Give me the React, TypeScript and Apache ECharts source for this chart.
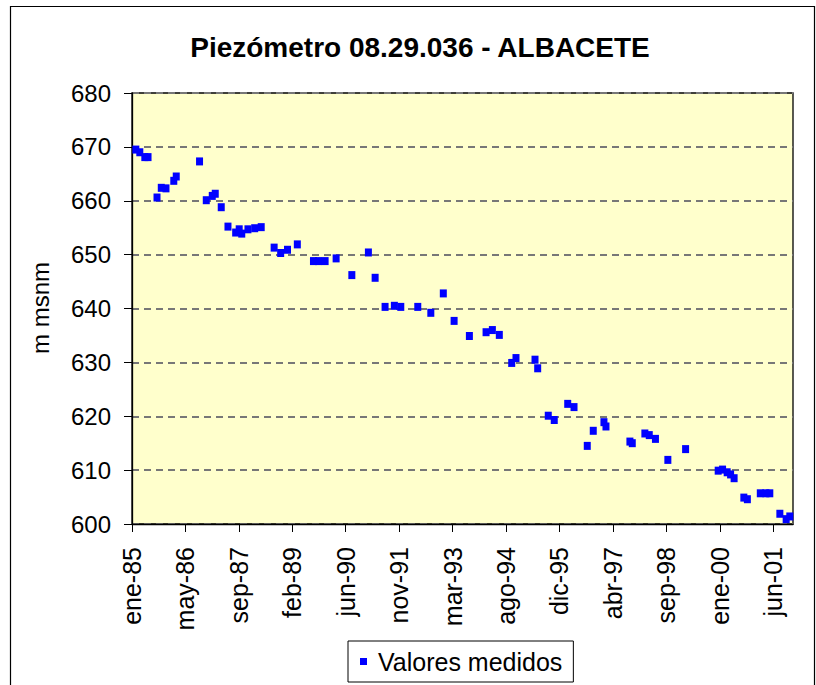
import { useEffect, useRef } from 'react';
import * as echarts from 'echarts';

const fechas: string[] = [
  '1985-02-06', '1985-03-15', '1985-05-01', '1985-05-31', '1985-08-23', '1985-10-02', '1985-11-15',
  '1986-01-27', '1986-02-19', '1986-09-25', '1986-11-27',
  '1987-01-22', '1987-02-19', '1987-04-16', '1987-06-18', '1987-08-29', '1987-10-01', '1987-10-25', '1987-12-22',
  '1988-02-23', '1988-04-24', '1988-08-23', '1988-10-23', '1988-12-26',
  '1989-03-28', '1989-08-26', '1989-10-12', '1989-12-13',
  '1990-03-26', '1990-08-20',
  '1991-01-22', '1991-03-26', '1991-06-27', '1991-09-22', '1991-11-21',
  '1992-04-28', '1992-08-28', '1992-12-23',
  '1993-04-03', '1993-08-24',
  '1994-01-27', '1994-03-27', '1994-05-31', '1994-09-24', '1994-11-03',
  '1995-04-30', '1995-05-25', '1995-09-01', '1995-10-27',
  '1996-03-01', '1996-04-29', '1996-08-31', '1996-10-26',
  '1997-02-03', '1997-02-22', '1997-10-04', '1997-10-26',
  '1998-02-21', '1998-04-03', '1998-05-31', '1998-09-24',
  '1999-03-09',
  '2000-01-08', '2000-02-18', '2000-04-01', '2000-05-03', '2000-06-05', '2000-09-04', '2000-10-07',
  '2001-02-05', '2001-03-29', '2001-05-05', '2001-08-07', '2001-10-05', '2001-11-08',
];

// Nivel piezométrico (m s.n.m.)
const niveles: number[] = [
  669.5, 669.0, 668.1, 668.1, 660.6, 662.4, 662.3,
  663.7, 664.5, 667.3, 660.1,
  660.9, 661.3, 658.8, 655.2, 654.1, 654.7, 653.9, 654.7,
  654.9, 655.1, 651.3, 650.3, 650.9,
  651.9, 648.8, 648.8, 648.8,
  649.3, 646.2,
  650.4, 645.7, 640.3, 640.5, 640.3,
  640.3, 639.2, 642.8,
  637.7, 634.9,
  635.6, 636.0, 635.1, 629.9, 630.8,
  630.5, 628.9, 620.1, 619.3,
  622.3, 621.7, 614.5, 617.3,
  618.9, 618.1, 615.3, 615.0,
  616.8, 616.5, 615.8, 611.9,
  613.9,
  609.9, 610.1, 609.6, 609.2, 608.5, 604.9, 604.6,
  605.7, 605.7, 605.7, 601.9, 600.9, 601.4,
];

const tickLabels: string[] = [
  'ene-85', 'may-86', 'sep-87', 'feb-89', 'jun-90', 'nov-91', 'mar-93',
  'ago-94', 'dic-95', 'abr-97', 'sep-98', 'ene-00', 'jun-01',
];
const TICK_STEP_DAYS = 500;
const X_MAX_DAYS = 6185;

const ORIGIN = Date.UTC(1985, 0, 1);
const dayOffset = (s: string) => {
  const [y, m, d] = s.split('-').map(Number);
  return (Date.UTC(y, m - 1, d) - ORIGIN) / 86400000;
};

export default function App() {
  const ref = useRef<HTMLDivElement>(null);
  useEffect(() => {
    if (!ref.current) return;
    const chart = echarts.init(ref.current, null, { renderer: 'svg' });
    const font = "'Liberation Sans', Arial, Helvetica, sans-serif";
    const tickValues = tickLabels.map((_, i) => i * TICK_STEP_DAYS);
    chart.setOption({
      animation: false,
      backgroundColor: '#ffffff',
      textStyle: { fontFamily: font },
      graphic: [
        {
          type: 'rect',
          z: 0,
          shape: { x: 10.5, y: 6.5, width: 804, height: 700 },
          style: { fill: 'none', stroke: '#000', lineWidth: 1.2 },
        },
        {
          type: 'text',
          x: 420,
          y: 47,
          style: {
            text: 'Piezómetro 08.29.036 - ALBACETE',
            fontSize: 28,
            fontWeight: 'bold',
            fontFamily: font,
            fill: '#000',
            align: 'center',
            verticalAlign: 'middle',
            textAlign: 'center',
            textVerticalAlign: 'middle',
          },
        },
        {
          type: 'text',
          x: 40,
          y: 308,
          rotation: Math.PI / 2,
          style: {
            text: 'm msnm',
            fontSize: 24,
            fontFamily: font,
            fill: '#000',
            align: 'center',
            verticalAlign: 'middle',
            textAlign: 'center',
            textVerticalAlign: 'middle',
          },
        },
      ],
      grid: {
        left: 132,
        right: 23,
        top: 93,
        bottom: 161,
        show: true,
        backgroundColor: '#FFFFCC',
        borderColor: '#000',
        borderWidth: 1.3,
        containLabel: false,
      },
      legend: {
        left: 348,
        top: 641,
        padding: [8, 11, 8, 12],
        borderColor: '#000',
        borderWidth: 1,
        backgroundColor: '#fff',
        icon: 'rect',
        itemWidth: 7,
        itemHeight: 7,
        itemStyle: { opacity: 1, color: '#0000FF' },
        textStyle: { fontSize: 25, color: '#000', fontFamily: font, padding: [0, 0, 0, 6] },
        data: ['Valores medidos'],
      },
      xAxis: {
        type: 'value',
        min: 0,
        max: X_MAX_DAYS,
        axisLine: { show: true, lineStyle: { color: '#000', width: 1.3 } },
        splitLine: { show: false },
        axisTick: {
          show: true,
          customValues: tickValues,
          length: 8,
          inside: false,
          lineStyle: { color: '#000', width: 1 },
        },
        axisLabel: {
          customValues: tickValues,
          rotate: 90,
          margin: 23,
          fontSize: 25,
          color: '#000',
          fontFamily: font,
          formatter: (v: number) => tickLabels[Math.round(v / TICK_STEP_DAYS)] ?? '',
        },
      },
      yAxis: {
        type: 'value',
        min: 600,
        max: 680,
        interval: 10,
        axisLine: { show: true, lineStyle: { color: '#000', width: 1.3 } },
        axisTick: { show: true, length: 8, inside: false, lineStyle: { color: '#000', width: 1 } },
        axisLabel: { margin: 21, fontSize: 24, color: '#000', fontFamily: font },
        splitLine: {
          show: true,
          lineStyle: { color: '#777777', width: 1.8, type: [7, 5] },
        },
      },
      series: [
        {
          name: 'Valores medidos',
          type: 'scatter',
          symbol: 'rect',
          symbolSize: [7, 8],
          itemStyle: { color: '#0000FF', opacity: 1 },
          data: fechas.map((f, i) => [dayOffset(f), niveles[i]]),
        },
      ],
    });
    return () => chart.dispose();
  }, []);
  return (
    <div
      ref={ref}
      style={{ position: 'absolute', left: 0, top: 0, width: 816, height: 685 }}
    />
  );
}
